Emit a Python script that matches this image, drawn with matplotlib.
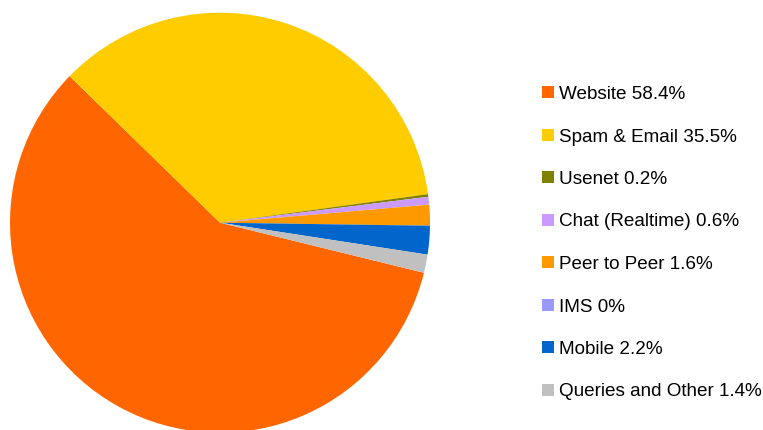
import matplotlib.pyplot as plt
from matplotlib.patches import Patch

categories = ["Website", "Spam & Email", "Usenet", "Chat (Realtime)",
              "Peer to Peer", "IMS", "Mobile", "Queries and Other"]
shares = [58.4, 35.5, 0.2, 0.6, 1.6, 0, 2.2, 1.4]
colors = ["#FF6600", "#FFCC00", "#808000", "#CC99FF",
          "#FF9900", "#9999FF", "#0066CC", "#C0C0C0"]

plt.rcParams["font.family"] = ["Liberation Sans", "DejaVu Sans"]

W, H = 763, 430
fig = plt.figure(figsize=(W / 100, H / 100), dpi=100)

# pie centre (220, 222.7) px from top-left, radius 210 px
cx, cy, r = 220, 222.7, 210
ax = fig.add_axes([(cx - r) / W, (H - cy - r) / H, 2 * r / W, 2 * r / H])
ax.pie(shares, colors=colors, startangle=-13.8, counterclock=False,
       wedgeprops=dict(linewidth=0))
ax.set_xlim(-1, 1)
ax.set_ylim(-1, 1)
ax.set_aspect("equal")
ax.axis("off")

handles = [Patch(facecolor=c, edgecolor="none") for c in colors]
labels = [f"{n} {v:g}%" for n, v in zip(categories, shares)]
fig.legend(handles, labels, loc="upper left",
           bbox_to_anchor=(542 / W, 1 - 86 / H), frameon=False,
           fontsize=13.6, borderpad=0, borderaxespad=0,
           handlelength=0.61, handleheight=0.61, handletextpad=0.28,
           labelspacing=1.35)

fig.savefig("out.png", dpi=100)
